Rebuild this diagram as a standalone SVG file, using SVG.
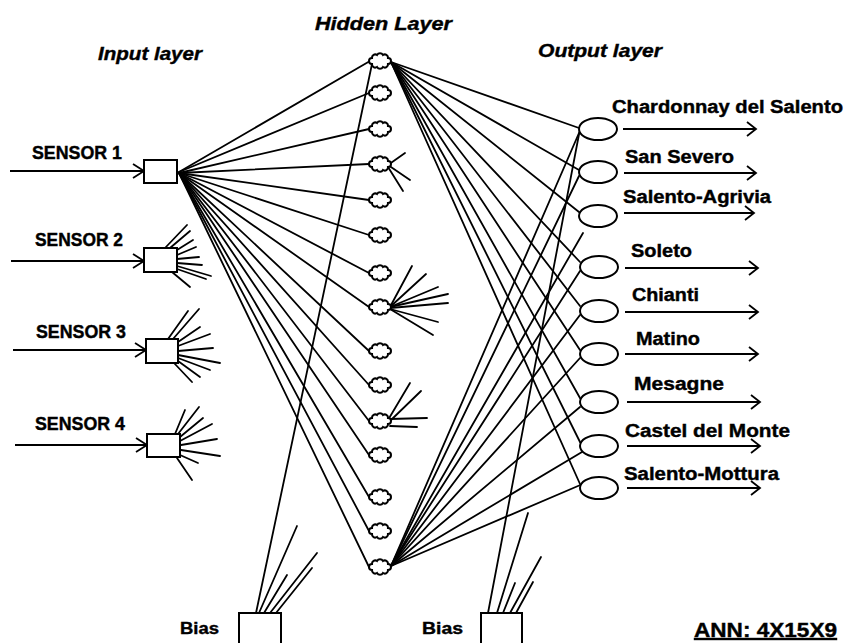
<svg xmlns="http://www.w3.org/2000/svg" xmlns:xlink="http://www.w3.org/1999/xlink" width="845" height="643" viewBox="0 0 845 643">
<style>
.ln{stroke:#000;stroke-width:1.8;fill:none;stroke-linecap:round}
.ar{stroke:#000;stroke-width:2.2;fill:none}
.nd{fill:#fff;stroke:#000;stroke-width:2}
.lbl{font-family:"Liberation Sans",Arial,sans-serif;font-weight:bold;fill:#000;stroke:#000;stroke-width:0.4}
.ttl{font-family:"Liberation Sans",Arial,sans-serif;font-weight:bold;font-style:italic;fill:#000;stroke:#000;stroke-width:0.4;font-size:19px}
</style>
<defs>
<path id="cloud" class="nd" d="M-8,-3 a3.2,3.2 0 0 1 5,-3 a3.5,3.5 0 0 1 6,0 a3.2,3.2 0 0 1 5,3 a3,3 0 0 1 0,6 a3.2,3.2 0 0 1 -5,3 a3.5,3.5 0 0 1 -6,0 a3.2,3.2 0 0 1 -5,-3 a3,3 0 0 1 0,-6 Z"/>
<marker id="inArr" markerUnits="userSpaceOnUse" markerWidth="16" markerHeight="20" refX="13" refY="10" orient="auto"><path d="M2,3 L13,10 L2,17" fill="none" stroke="#000" stroke-width="1.8"/></marker>
<marker id="outArr" markerUnits="userSpaceOnUse" markerWidth="14" markerHeight="20" refX="11" refY="10" orient="auto"><path d="M2,3 L11,10 L2,17" fill="none" stroke="#000" stroke-width="1.8"/></marker>
</defs>
<rect width="845" height="643" fill="#fff"/>

<g id="connectors">
<line class="ar" x1="10" y1="171" x2="144" y2="171" marker-end="url(#inArr)"/>
<line class="ar" x1="11" y1="261" x2="144" y2="261" marker-end="url(#inArr)"/>
<line class="ar" x1="13" y1="350" x2="146" y2="350" marker-end="url(#inArr)"/>
<line class="ar" x1="15" y1="445" x2="147" y2="445" marker-end="url(#inArr)"/>
<line class="ln" x1="179" y1="172" x2="370" y2="61"/>
<line class="ln" x1="179" y1="172" x2="369" y2="93"/>
<line class="ln" x1="179" y1="173" x2="369" y2="129"/>
<line class="ln" x1="179" y1="173" x2="369" y2="164"/>
<line class="ln" x1="179" y1="173" x2="369" y2="200"/>
<line class="ln" x1="179" y1="173" x2="369" y2="235"/>
<line class="ln" x1="179" y1="173" x2="369" y2="273"/>
<line class="ln" x1="179" y1="173" x2="369" y2="307"/>
<line class="ln" x1="179" y1="173" x2="369" y2="351"/>
<line class="ln" x1="179" y1="173" x2="369" y2="385"/>
<line class="ln" x1="179" y1="173" x2="369" y2="421"/>
<line class="ln" x1="179" y1="173" x2="369" y2="455"/>
<line class="ln" x1="179" y1="173" x2="369" y2="497"/>
<line class="ln" x1="179" y1="173" x2="369" y2="531"/>
<line class="ln" x1="179" y1="173" x2="369" y2="567"/>
<line class="ln" x1="165" y1="248" x2="187" y2="225"/>
<line class="ln" x1="170" y1="248" x2="190" y2="231"/>
<line class="ln" x1="177" y1="250" x2="193" y2="240"/>
<line class="ln" x1="177" y1="255" x2="196" y2="247"/>
<line class="ln" x1="177" y1="259" x2="199" y2="257"/>
<line class="ln" x1="177" y1="263" x2="202" y2="265"/>
<line class="ln" x1="177" y1="266" x2="211" y2="276"/>
<line class="ln" x1="177" y1="269" x2="206" y2="279"/>
<line class="ln" x1="172" y1="272" x2="190" y2="287"/>
<line class="ln" x1="168" y1="339" x2="188" y2="311"/>
<line class="ln" x1="173" y1="339" x2="199" y2="309"/>
<line class="ln" x1="178" y1="342" x2="200" y2="327"/>
<line class="ln" x1="178" y1="346" x2="210" y2="334"/>
<line class="ln" x1="178" y1="351" x2="213" y2="348"/>
<line class="ln" x1="178" y1="355" x2="220" y2="363"/>
<line class="ln" x1="178" y1="358" x2="210" y2="370"/>
<line class="ln" x1="178" y1="361" x2="200" y2="377"/>
<line class="ln" x1="174" y1="363" x2="192" y2="382"/>
<line class="ln" x1="175" y1="434" x2="185" y2="410"/>
<line class="ln" x1="178" y1="434" x2="199" y2="407"/>
<line class="ln" x1="180" y1="437" x2="203" y2="418"/>
<line class="ln" x1="180" y1="441" x2="212" y2="424"/>
<line class="ln" x1="181" y1="445" x2="217" y2="439"/>
<line class="ln" x1="181" y1="450" x2="220" y2="456"/>
<line class="ln" x1="180" y1="455" x2="198" y2="463"/>
<line class="ln" x1="177" y1="458" x2="192" y2="480"/>
<line class="ln" x1="388" y1="165" x2="405" y2="153"/>
<line class="ln" x1="388" y1="165" x2="410" y2="180"/>
<line class="ln" x1="388" y1="167" x2="403" y2="191"/>
<line class="ln" x1="390" y1="307" x2="412" y2="266"/>
<line class="ln" x1="390" y1="307" x2="426" y2="274"/>
<line class="ln" x1="390" y1="307" x2="438" y2="287"/>
<line class="ln" x1="390" y1="307" x2="448" y2="294"/>
<line class="ln" x1="390" y1="308" x2="448" y2="303"/>
<line class="ln" x1="390" y1="309" x2="438" y2="322"/>
<line class="ln" x1="390" y1="309" x2="433" y2="335"/>
<line class="ln" x1="388" y1="420" x2="410" y2="383"/>
<line class="ln" x1="390" y1="421" x2="421" y2="391"/>
<line class="ln" x1="390" y1="419" x2="427" y2="418"/>
<line class="ln" x1="390" y1="426" x2="417" y2="427"/>
<line class="ln" x1="391" y1="62" x2="579" y2="128"/>
<line class="ln" x1="391" y1="62" x2="579" y2="170"/>
<line class="ln" x1="391" y1="62" x2="579" y2="212"/>
<line class="ln" x1="391" y1="62" x2="580" y2="262"/>
<line class="ln" x1="391" y1="62" x2="580" y2="306"/>
<line class="ln" x1="391" y1="62" x2="580" y2="350"/>
<line class="ln" x1="391" y1="62" x2="580" y2="398"/>
<line class="ln" x1="391" y1="62" x2="580" y2="442"/>
<line class="ln" x1="391" y1="62" x2="580" y2="484"/>
<line class="ln" x1="391" y1="566" x2="579" y2="133"/>
<line class="ln" x1="391" y1="566" x2="579" y2="176"/>
<line class="ln" x1="391" y1="566" x2="583" y2="233"/>
<line class="ln" x1="391" y1="566" x2="580" y2="271"/>
<line class="ln" x1="391" y1="566" x2="580" y2="315"/>
<line class="ln" x1="391" y1="566" x2="580" y2="358"/>
<line class="ln" x1="391" y1="566" x2="580" y2="407"/>
<line class="ln" x1="391" y1="566" x2="582" y2="452"/>
<line class="ln" x1="391" y1="566" x2="585" y2="483"/>
<line class="ln" x1="256" y1="613" x2="372" y2="64"/>
<line class="ln" x1="259" y1="613" x2="297" y2="526"/>
<line class="ln" x1="264" y1="613" x2="287" y2="575"/>
<line class="ln" x1="270" y1="613" x2="317" y2="553"/>
<line class="ln" x1="276" y1="613" x2="312" y2="568"/>
<line class="ln" x1="488" y1="613" x2="580" y2="129"/>
<line class="ln" x1="497" y1="613" x2="528" y2="513"/>
<line class="ln" x1="503" y1="613" x2="515" y2="583"/>
<line class="ln" x1="510" y1="613" x2="541" y2="557"/>
<line class="ln" x1="516" y1="613" x2="533" y2="582"/>
<line class="ar" x1="623" y1="129" x2="756" y2="129" marker-end="url(#outArr)"/>
<line class="ar" x1="624" y1="173" x2="756" y2="173" marker-end="url(#outArr)"/>
<line class="ar" x1="624" y1="213" x2="754" y2="213" marker-end="url(#outArr)"/>
<line class="ar" x1="625" y1="268" x2="758" y2="268" marker-end="url(#outArr)"/>
<line class="ar" x1="625" y1="312" x2="758" y2="312" marker-end="url(#outArr)"/>
<line class="ar" x1="625" y1="354" x2="758" y2="354" marker-end="url(#outArr)"/>
<line class="ar" x1="627" y1="402" x2="760" y2="402" marker-end="url(#outArr)"/>
<line class="ar" x1="627" y1="446" x2="760" y2="446" marker-end="url(#outArr)"/>
<line class="ar" x1="627" y1="488" x2="760" y2="488" marker-end="url(#outArr)"/>
</g>

<text class="ttl" x="98" y="60" textLength="104" lengthAdjust="spacingAndGlyphs">Input layer</text>
<text class="ttl" x="315" y="30" textLength="137" lengthAdjust="spacingAndGlyphs">Hidden Layer</text>
<text class="ttl" x="538" y="57" textLength="124" lengthAdjust="spacingAndGlyphs">Output layer</text>

<g id="sensor1"><rect class="nd" x="144" y="160" width="33" height="23"/><text class="lbl" x="32" y="159" font-size="17.5" textLength="90" lengthAdjust="spacingAndGlyphs">SENSOR 1</text></g>
<g id="sensor2"><rect class="nd" x="144" y="248" width="33" height="24"/><text class="lbl" x="35" y="246" font-size="17.5" textLength="88" lengthAdjust="spacingAndGlyphs">SENSOR 2</text></g>
<g id="sensor3"><rect class="nd" x="146" y="339" width="32" height="24"/><text class="lbl" x="36" y="338" font-size="17.5" textLength="90" lengthAdjust="spacingAndGlyphs">SENSOR 3</text></g>
<g id="sensor4"><rect class="nd" x="147" y="434" width="33" height="23"/><text class="lbl" x="35" y="430" font-size="17.5" textLength="90" lengthAdjust="spacingAndGlyphs">SENSOR 4</text></g>

<g id="h1"><use xlink:href="#cloud" href="#cloud" x="380" y="61"/></g>
<g id="h2"><use xlink:href="#cloud" href="#cloud" x="380" y="93"/></g>
<g id="h3"><use xlink:href="#cloud" href="#cloud" x="380" y="129"/></g>
<g id="h4"><use xlink:href="#cloud" href="#cloud" x="380" y="164"/></g>
<g id="h5"><use xlink:href="#cloud" href="#cloud" x="380" y="200"/></g>
<g id="h6"><use xlink:href="#cloud" href="#cloud" x="380" y="235"/></g>
<g id="h7"><use xlink:href="#cloud" href="#cloud" x="380" y="273"/></g>
<g id="h8"><use xlink:href="#cloud" href="#cloud" x="380" y="307"/></g>
<g id="h9"><use xlink:href="#cloud" href="#cloud" x="380" y="351"/></g>
<g id="h10"><use xlink:href="#cloud" href="#cloud" x="380" y="385"/></g>
<g id="h11"><use xlink:href="#cloud" href="#cloud" x="380" y="421"/></g>
<g id="h12"><use xlink:href="#cloud" href="#cloud" x="380" y="455"/></g>
<g id="h13"><use xlink:href="#cloud" href="#cloud" x="380" y="497"/></g>
<g id="h14"><use xlink:href="#cloud" href="#cloud" x="380" y="531"/></g>
<g id="h15"><use xlink:href="#cloud" href="#cloud" x="380" y="567"/></g>

<g id="o1"><ellipse class="nd" cx="598" cy="129" rx="19" ry="11"/><text class="lbl" x="612" y="113" font-size="18" textLength="231" lengthAdjust="spacingAndGlyphs">Chardonnay del Salento</text></g>
<g id="o2"><ellipse class="nd" cx="598" cy="172" rx="19" ry="11"/><text class="lbl" x="625" y="163" font-size="18" textLength="109" lengthAdjust="spacingAndGlyphs">San Severo</text></g>
<g id="o3"><ellipse class="nd" cx="598" cy="216" rx="19" ry="11"/><text class="lbl" x="623" y="203" font-size="18" textLength="148" lengthAdjust="spacingAndGlyphs">Salento-Agrivia</text></g>
<g id="o4"><ellipse class="nd" cx="599" cy="267" rx="19" ry="11"/><text class="lbl" x="631" y="257" font-size="18" textLength="61" lengthAdjust="spacingAndGlyphs">Soleto</text></g>
<g id="o5"><ellipse class="nd" cx="599" cy="311" rx="19" ry="11"/><text class="lbl" x="632" y="301" font-size="18" textLength="67" lengthAdjust="spacingAndGlyphs">Chianti</text></g>
<g id="o6"><ellipse class="nd" cx="599" cy="354" rx="19" ry="11"/><text class="lbl" x="636" y="345" font-size="18" textLength="64" lengthAdjust="spacingAndGlyphs">Matino</text></g>
<g id="o7"><ellipse class="nd" cx="599" cy="402" rx="19" ry="11"/><text class="lbl" x="634" y="390" font-size="18" textLength="90" lengthAdjust="spacingAndGlyphs">Mesagne</text></g>
<g id="o8"><ellipse class="nd" cx="599" cy="446" rx="19" ry="11"/><text class="lbl" x="625" y="437" font-size="18" textLength="165" lengthAdjust="spacingAndGlyphs">Castel del Monte</text></g>
<g id="o9"><ellipse class="nd" cx="599" cy="488" rx="19" ry="11"/><text class="lbl" x="624" y="480" font-size="18" textLength="155" lengthAdjust="spacingAndGlyphs">Salento-Mottura</text></g>

<g id="bias1"><rect class="nd" x="239" y="613" width="42" height="40"/><text class="lbl" x="180" y="634" font-size="17" textLength="39" lengthAdjust="spacingAndGlyphs">Bias</text></g>
<g id="bias2"><rect class="nd" x="481" y="613" width="41" height="40"/><text class="lbl" x="422" y="634" font-size="17" textLength="41" lengthAdjust="spacingAndGlyphs">Bias</text></g>

<text class="lbl" x="694" y="637" font-size="20" textLength="143" lengthAdjust="spacingAndGlyphs" text-decoration="underline">ANN: 4X15X9</text>
</svg>
